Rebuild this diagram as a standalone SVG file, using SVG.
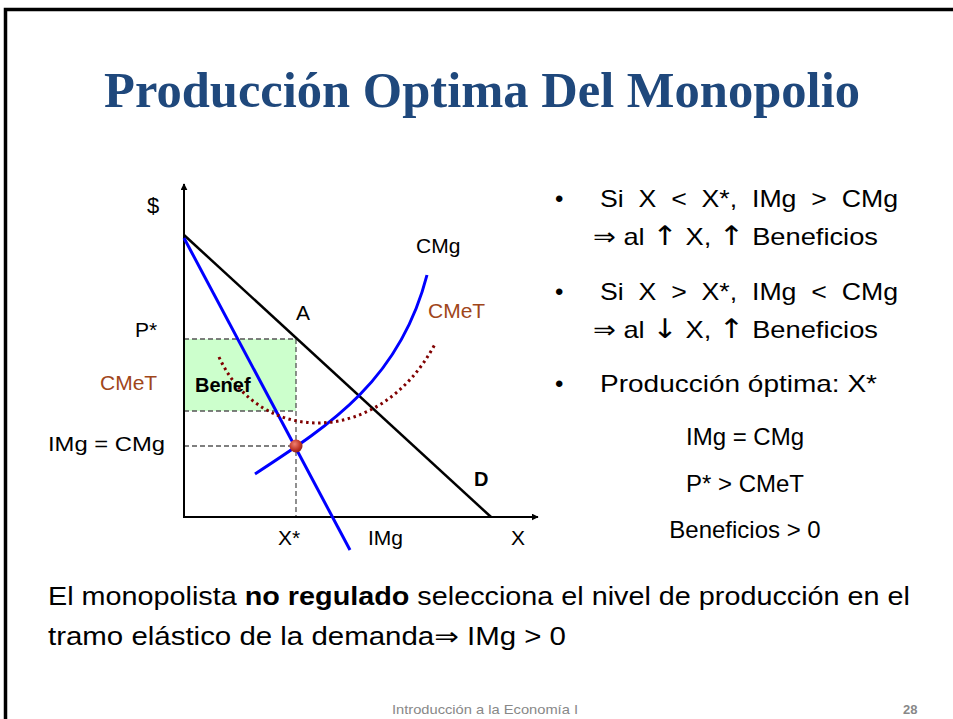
<svg xmlns="http://www.w3.org/2000/svg" width="953" height="719" viewBox="0 0 953 719">
<defs>
<style>
.t{font-family:"Liberation Sans","DejaVu Sans",sans-serif;fill:#000}
.pre{white-space:pre}
.arw{font-family:"DejaVu Sans",sans-serif}
.ax{stroke:#000;stroke-width:2;fill:none}
.dash{stroke:#555;stroke-width:1.3;stroke-dasharray:5 3;fill:none}
.blue{stroke:#0000ff;stroke-width:3;fill:none}
.red{fill:#a0461a;font-family:"Liberation Sans",sans-serif}
</style>
<marker id="arr" viewBox="0 0 10 10" refX="9" refY="5" markerWidth="7" markerHeight="7" markerUnits="userSpaceOnUse" orient="auto">
<path d="M0,0 L10,5 L0,10 z" fill="#000"/>
</marker>
<radialGradient id="ball" cx="0.4" cy="0.35" r="0.7">
<stop offset="0" stop-color="#f08070"/>
<stop offset="0.6" stop-color="#c0392b"/>
<stop offset="1" stop-color="#8b1a10"/>
</radialGradient>
</defs>
<rect x="0" y="0" width="953" height="719" fill="#fff"/>
<path d="M5.5,730 V9.5 H960" stroke="#000" stroke-width="3.5" fill="none"/>

<text id="title" x="104" y="107" textLength="756" lengthAdjust="spacingAndGlyphs" style="font-family:'Liberation Serif','DejaVu Serif',serif;font-weight:bold;font-size:50px;fill:#1f487c">Producción Optima Del Monopolio</text>

<g id="benefit-area">
<rect x="184" y="339" width="112" height="72" fill="#ccffcc"/>
</g>

<g id="connectors">
<line class="dash" x1="184" y1="339" x2="296" y2="339"/>
<line class="dash" x1="184" y1="411" x2="296" y2="411"/>
<line class="dash" x1="184" y1="446" x2="296" y2="446"/>
<line class="dash" x1="296" y1="339" x2="296" y2="517"/>
</g>

<g id="axes">
<line class="ax" x1="184" y1="518" x2="184" y2="184" marker-end="url(#arr)"/>
<line class="ax" x1="183" y1="517" x2="538" y2="517" marker-end="url(#arr)"/>
</g>

<g id="demand">
<line x1="184" y1="235" x2="491" y2="517" stroke="#000" stroke-width="2.5"/>
</g>
<g id="img-curve">
<line class="blue" x1="184" y1="238" x2="350" y2="550"/>
</g>
<g id="cmg-curve">
<path class="blue" d="M255,474 C330,425 400,380 427,275"/>
</g>
<g id="cmet-curve">
<path d="M219,357 C260,447 380,447 435,344" stroke="#800000" stroke-width="3" stroke-dasharray="2.5 3.5" fill="none"/>
</g>
<g id="equilibrium">
<circle cx="296" cy="446" r="6.5" fill="url(#ball)"/>
</g>

<g id="labels">
<text class="t" x="147" y="213" font-size="22">$</text>
<text class="t" x="135" y="337" font-size="21">P*</text>
<text class="red" x="100" y="390" font-size="21">CMeT</text>
<text class="t" x="195" y="392" font-size="20" font-weight="bold">Benef</text>
<text class="t" x="48" y="451" font-size="20" textLength="117" lengthAdjust="spacingAndGlyphs">IMg = CMg</text>
<text class="t" x="296" y="320" font-size="21">A</text>
<text class="t" x="416" y="253" font-size="21">CMg</text>
<text class="red" x="428" y="318" font-size="21">CMeT</text>
<text class="t" x="474" y="486" font-size="20" font-weight="bold">D</text>
<text class="t" x="278" y="545" font-size="21">X*</text>
<text class="t" x="368" y="545" font-size="21">IMg</text>
<text class="t" x="511" y="545" font-size="21">X</text>
</g>

<g id="bullets">
<text class="t" x="555" y="207" font-size="24">•</text>
<text class="t pre" x="600" y="207" font-size="24" textLength="298" lengthAdjust="spacingAndGlyphs">Si  X  &lt;  X*,  IMg  &gt;  CMg</text>
<text class="t" x="593" y="245" font-size="24" textLength="285" lengthAdjust="spacingAndGlyphs">⇒ al <tspan class="arw" font-size="27">↑</tspan> X, <tspan class="arw" font-size="27">↑</tspan> Beneficios</text>
<text class="t" x="555" y="300" font-size="24">•</text>
<text class="t pre" x="600" y="300" font-size="24" textLength="298" lengthAdjust="spacingAndGlyphs">Si  X  &gt;  X*,  IMg  &lt;  CMg</text>
<text class="t" x="593" y="338" font-size="24" textLength="285" lengthAdjust="spacingAndGlyphs">⇒ al <tspan class="arw" font-size="27">↓</tspan> X, <tspan class="arw" font-size="27">↑</tspan> Beneficios</text>
<text class="t" x="555" y="392" font-size="24">•</text>
<text class="t" x="600" y="392" font-size="24" textLength="277" lengthAdjust="spacingAndGlyphs">Producción óptima: X*</text>
<text class="t" x="745" y="445" font-size="24" text-anchor="middle">IMg = CMg</text>
<text class="t" x="745" y="492" font-size="24" text-anchor="middle">P* &gt; CMeT</text>
<text class="t" x="745" y="538" font-size="24" text-anchor="middle">Beneficios &gt; 0</text>
</g>

<g id="conclusion">
<text class="t" x="48" y="605" font-size="25" textLength="862" lengthAdjust="spacingAndGlyphs">El monopolista <tspan font-weight="bold">no regulado</tspan> selecciona el nivel de producción en el</text>
<text class="t" x="48" y="645" font-size="25" textLength="518" lengthAdjust="spacingAndGlyphs">tramo elástico de la demanda⇒ IMg &gt; 0</text>
</g>

<g id="footer">
<text x="392" y="714" font-size="13" fill="#888" style="font-family:'Liberation Sans',sans-serif" textLength="186" lengthAdjust="spacingAndGlyphs">Introducción a la Economía I</text>
<text x="903" y="714" font-size="13" fill="#888" font-weight="bold" style="font-family:'Liberation Sans',sans-serif">28</text>
</g>
</svg>
